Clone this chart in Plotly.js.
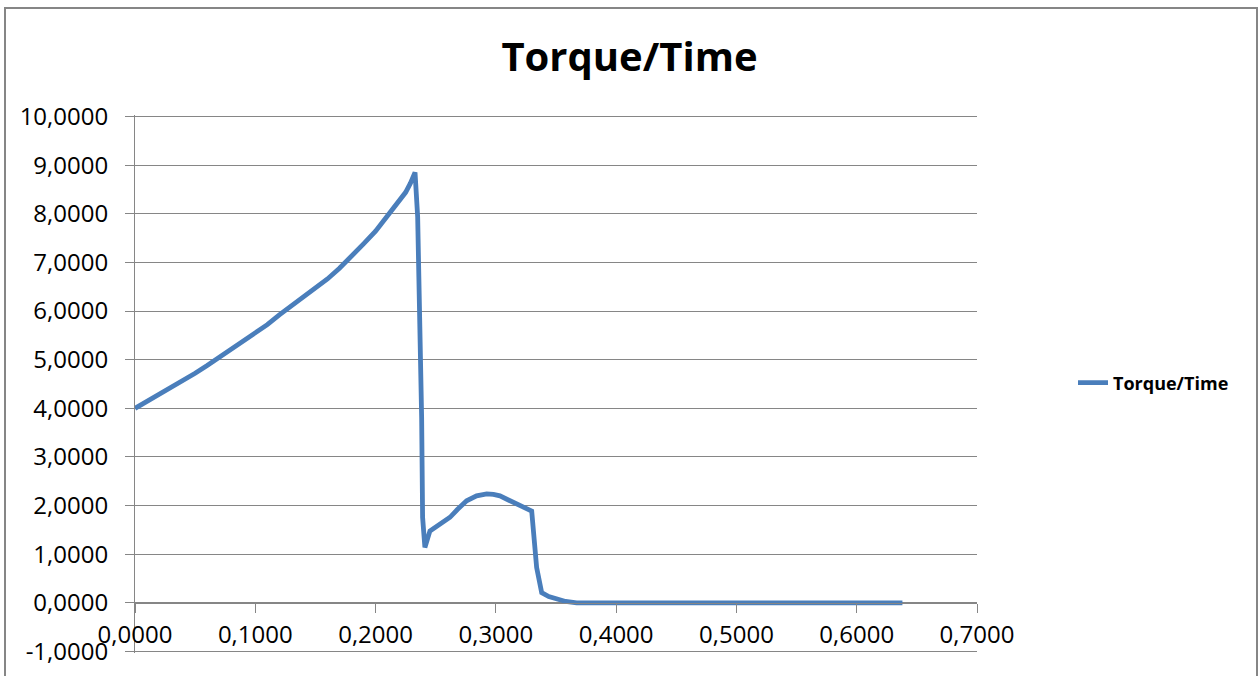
<!DOCTYPE html>
<html>
<head>
<meta charset="utf-8">
<script src="https://cdn.plot.ly/plotly-3.0.1.min.js"></script>
<style>
  html, body { margin: 0; padding: 0; background: #fff; }
  #chart { width: 1259px; height: 676px; }
</style>
</head>
<body>
<div id="chart"></div>
<script>
// Data
const time = [0, 0.01, 0.02, 0.03, 0.04, 0.05, 0.06, 0.07, 0.08, 0.09, 0.10, 0.11, 0.12, 0.13, 0.14, 0.15, 0.16, 0.17, 0.18, 0.19, 0.20, 0.21, 0.215, 0.22, 0.225, 0.229, 0.2328, 0.2350, 0.2369, 0.2383, 0.2391, 0.2410, 0.2452, 0.2508, 0.2560, 0.2619, 0.2680, 0.2757, 0.2840, 0.2924, 0.2980, 0.3034, 0.3100, 0.3173, 0.3240, 0.3298, 0.3339, 0.3381, 0.3440, 0.3505, 0.3580, 0.3672, 0.38, 0.40, 0.42, 0.44, 0.46, 0.48, 0.50, 0.52, 0.54, 0.56, 0.58, 0.60, 0.62, 0.638];
const torque = [4.00, 4.14, 4.28, 4.42, 4.57, 4.72, 4.88, 5.05, 5.22, 5.37, 5.54, 5.72, 5.92, 6.11, 6.27, 6.46, 6.66, 6.88, 7.12, 7.38, 7.64, 7.96, 8.10, 8.30, 8.44, 8.63, 8.85, 7.93, 5.87, 3.81, 1.76, 1.14, 1.48, 1.58, 1.66, 1.76, 1.92, 2.10, 2.20, 2.24, 2.23, 2.20, 2.12, 2.03, 1.96, 1.89, 0.73, 0.21, 0.13, 0.08, 0.03, 0.00, 0.00, 0.00, 0.00, 0.00, 0.00, 0.00, 0.00, 0.00, 0.00, 0.00, 0.00, 0.00, 0.00, 0.00];

const yTickVals = [-1, 0, 1, 2, 3, 4, 5, 6, 7, 8, 9, 10];
const yTickText = ['-1,0000', '0,0000', '1,0000', '2,0000', '3,0000', '4,0000', '5,0000', '6,0000', '7,0000', '8,0000', '9,0000', '10,0000'];
const xTickVals = [0, 0.1, 0.2, 0.3, 0.4, 0.5, 0.6, 0.7];
const xTickText = ['0,0000', '0,1000', '0,2000', '0,3000', '0,4000', '0,5000', '0,6000', '0,7000'];

const seriesName = 'Torque/Time';
const chartTitle = 'Torque/Time';

const gray = '#868686';
const font = '"Open Sans", "Liberation Sans", sans-serif';

const yMin = -1.03, yMax = 10.03;
const plotTop = 115, plotBottom = 653, plotLeft = 135, plotRight = 977;
const plotH = plotBottom - plotTop, plotW = plotRight - plotLeft;

const trace = {
  x: time,
  y: torque,
  type: 'scatter',
  mode: 'lines',
  name: seriesName,
  line: { color: '#4A7EBB', width: 4.8 },
  showlegend: true
};

const layout = {
  width: 1259,
  height: 676,
  margin: { l: plotLeft, r: 1259 - plotRight, t: plotTop, b: 676 - plotBottom, pad: 0 },
  paper_bgcolor: '#ffffff',
  plot_bgcolor: '#ffffff',
  font: { family: font, color: '#000000', size: 24 },
  title: {
    text: chartTitle,
    font: { family: font, size: 40, color: '#000000', weight: 'bold' },
    x: 0.5, xref: 'container', xanchor: 'center',
    y: 1 - 57 / 676, yref: 'container', yanchor: 'middle'
  },
  xaxis: {
    range: [0, 0.7],
    tickvals: xTickVals,
    ticktext: xTickText,
    showgrid: false,
    zeroline: false,
    showline: true,
    linecolor: gray,
    linewidth: 1,
    ticks: 'outside',
    ticklen: 9,
    tickcolor: gray,
    tickwidth: 1,
    anchor: 'free',
    position: (0 - yMin) / (yMax - yMin),
    ticklabelstandoff: 1,
    tickfont: { family: font, size: 24, color: '#000000' },
    fixedrange: true
  },
  yaxis: {
    range: [yMin, yMax],
    tickvals: yTickVals,
    ticktext: yTickText,
    showgrid: true,
    gridcolor: gray,
    gridwidth: 1,
    zeroline: false,
    showline: true,
    linecolor: gray,
    linewidth: 1,
    ticks: 'outside',
    ticklen: 9,
    tickcolor: gray,
    tickwidth: 1,
    ticklabelstandoff: 12,
    tickfont: { family: font, size: 24, color: '#000000' },
    fixedrange: true
  },
  legend: {
    x: (1073 - plotLeft) / plotW, xref: 'paper', xanchor: 'left',
    y: (plotBottom - 383) / plotH, yref: 'paper', yanchor: 'middle',
    font: { family: font, size: 18, color: '#000000', weight: 'bold' },
    bgcolor: 'rgba(0,0,0,0)',
    borderwidth: 0
  },
  shapes: [{
    type: 'rect',
    xref: 'paper', yref: 'paper',
    x0: (5 - plotLeft) / plotW, x1: (1257 - plotLeft) / plotW,
    y0: (plotBottom - 690) / plotH, y1: (plotBottom - 8) / plotH,
    line: { color: gray, width: 2 },
    fillcolor: 'rgba(0,0,0,0)',
    layer: 'below'
  }]
};

Plotly.newPlot('chart', [trace], layout, { displayModeBar: false, staticPlot: true });
</script>
</body>
</html>
